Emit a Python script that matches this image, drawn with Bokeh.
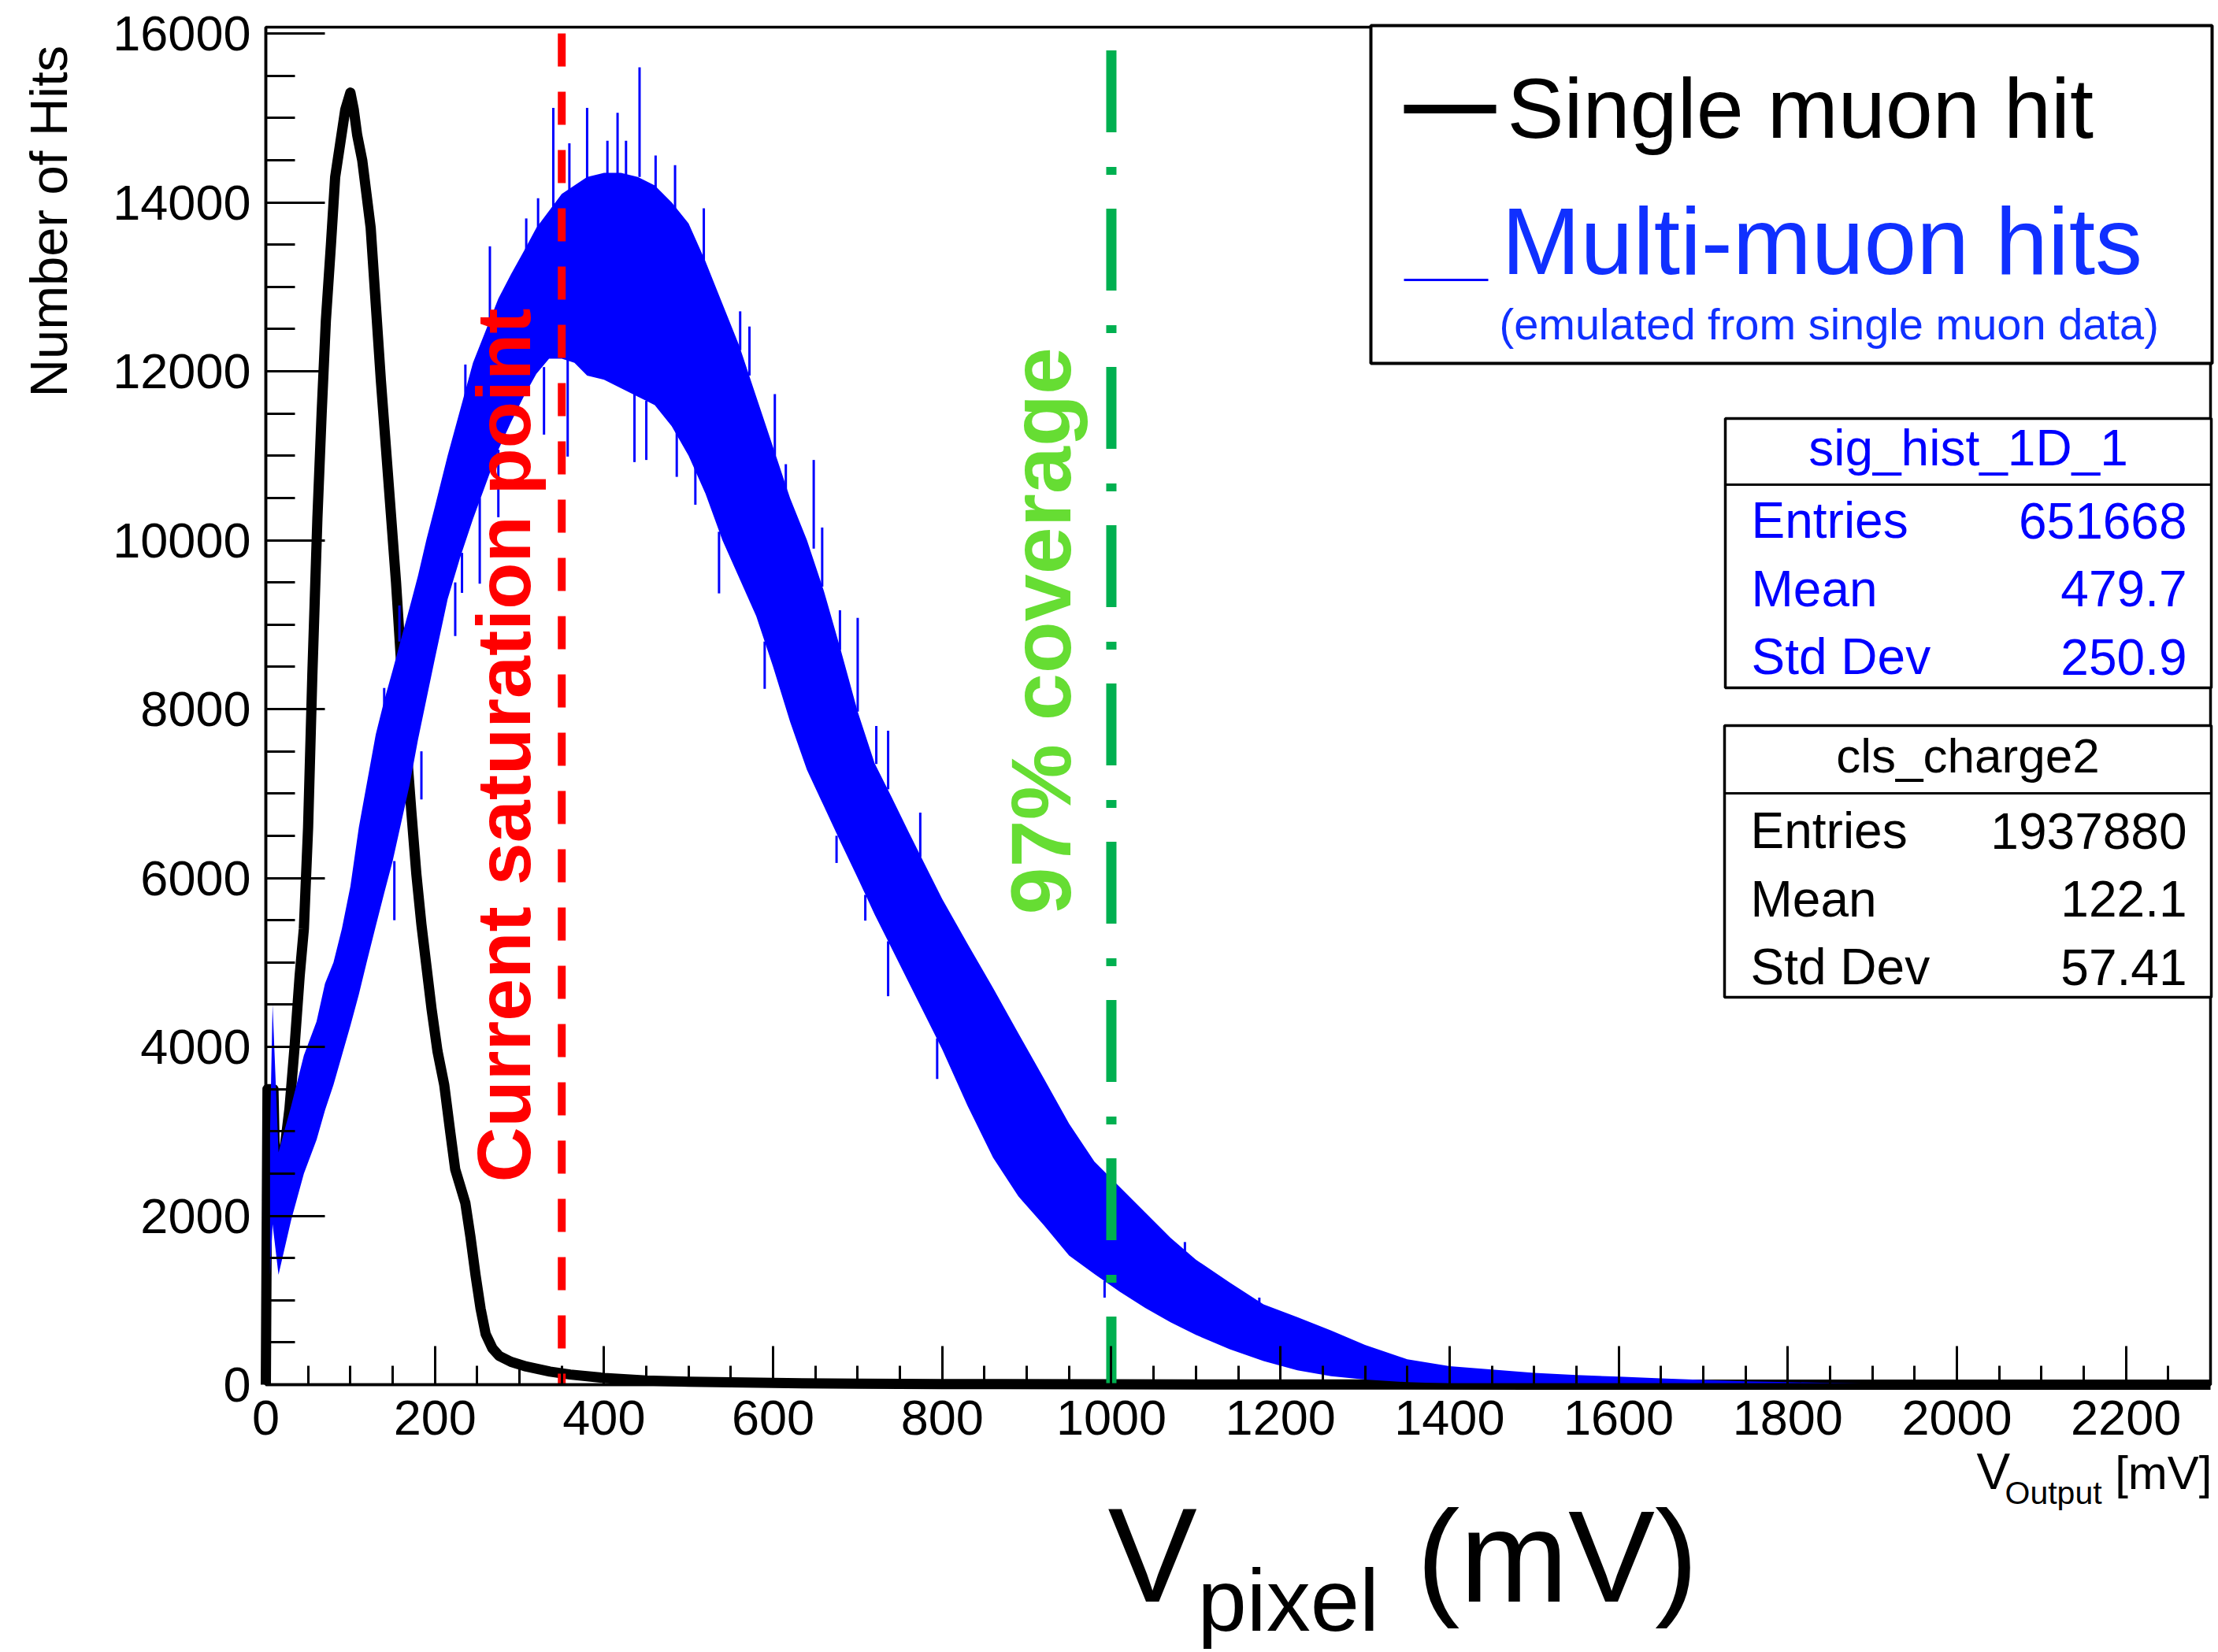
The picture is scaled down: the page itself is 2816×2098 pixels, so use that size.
import math
from bokeh.plotting import figure
from bokeh.models import Range1d, SingleIntervalTicker, Label, BoxAnnotation, LinearAxis
from bokeh.embed import file_html
from bokeh.resources import INLINE

# ---------------- data ----------------
# Single muon hit (black histogram), V_output in mV vs number of hits
single_x = [0, 2, 9, 12, 15, 23, 28, 34, 40, 45, 50, 55, 61, 66, 71, 77, 82, 88, 94, 100,
            104, 108, 114, 119, 124, 130, 136, 142, 148, 154, 160, 166, 172, 178, 184, 190,
            196, 203, 211, 218, 224, 230, 236, 242, 248, 254, 260, 268, 276, 290, 308, 336,
            360, 400, 450, 500, 600, 700, 800, 1000, 1200, 1500, 1800, 2300]
single_y = [0, 3500, 3500, 2000, 2450, 2860, 3270, 4000, 4840, 5400, 6600, 8400, 10260, 11500,
            12600, 13500, 14300, 14700, 15100, 15300, 15100, 14800, 14500, 14100, 13700, 12800,
            11900, 11100, 10300, 9500, 8550, 7600, 6800, 6050, 5450, 4950, 4450, 3950, 3550,
            3000, 2550, 2350, 2150, 1750, 1300, 900, 600, 430, 340, 270, 215, 155, 120, 80, 50,
            35, 20, 12, 8, 4, 2, 1, 0, 0]

# Multi-muon hits (blue histogram): lower / upper edge of the noisy band
multi_x = [5, 8, 15, 30, 45, 60, 70, 80, 90, 100, 110, 120, 130, 140, 150, 160, 170, 180, 190,
           200, 215, 230, 245, 260, 275, 290, 305, 320, 335, 350, 365, 380, 400, 420, 440, 460,
           480, 500, 520, 540, 560, 580, 600, 620, 640, 660, 680, 700, 720, 740, 760, 780, 800,
           830, 860, 890, 920, 950, 980, 1010, 1040, 1070, 1100, 1140, 1180, 1220, 1260, 1300,
           1350, 1400, 1450, 1500, 1550, 1600, 1650, 1700, 1750, 1800, 1850, 1900, 1950, 2000]
multi_hi = [3000, 4500, 2750, 3300, 3900, 4300, 4750, 5000, 5400, 5900, 6600, 7150, 7700, 8100,
            8460, 8830, 9200, 9580, 10010, 10400, 11000, 11550, 12100, 12480, 12860, 13150,
            13420, 13700, 13900, 14100, 14200, 14300, 14350, 14350, 14300, 14200, 14000, 13750,
            13300, 12800, 12300, 11700, 11100, 10500, 10000, 9400, 8700, 7970, 7360, 6960, 6550,
            6150, 5750, 5220, 4700, 4160, 3630, 3090, 2640, 2340, 2040, 1740, 1480, 1210, 950,
            800, 640, 470, 300, 220, 180, 140, 115, 95, 75, 55, 40, 30, 20, 12, 8, 4]
multi_lo = [1300, 1900, 1300, 1950, 2500, 2900, 3250, 3550, 3900, 4250, 4620, 5030, 5430, 5820,
            6200, 6650, 7100, 7640, 8120, 8600, 9300, 9800, 10250, 10660, 11070, 11400, 11700,
            11970, 12150, 12150, 12100, 11950, 11900, 11800, 11700, 11600, 11350, 11000, 10550,
            10000, 9550, 9100, 8500, 7850, 7280, 6850, 6420, 6000, 5570, 5170, 4770, 4370, 3970,
            3300, 2690, 2230, 1890, 1530, 1310, 1100, 910, 740, 590, 420, 280, 170, 100, 60, 30,
            15, 0, 0, 0, 0, 0, 0, 0, 0, 0, 0, 0, 0]

# individual bins sticking out of the band: x, band edge, tip
spike_x = [140, 158, 208, 236, 265, 308, 322, 340, 359, 380, 404, 416, 426, 442, 461, 484,
           518, 561, 572, 602, 615, 648, 658, 679, 700, 722, 736, 774, 1087, 1175,
           152, 184, 224, 232, 253, 275, 329, 357, 436, 450, 486, 508, 536, 590, 675, 709,
           736, 794, 992]
spike_from = [8000, 8800, 10300, 11600, 12500, 13400, 13650, 13900, 14150, 14200, 14300, 14300,
              14300, 14300, 14150, 13900, 13300, 12250, 11950, 11000, 10600, 9900, 9450, 8700,
              7970, 7350, 7050, 6250, 1450, 950,
              6200, 7500, 9500, 9850, 10500, 11070, 12050, 12150, 11750, 11650, 11300, 10900,
              10100, 8800, 6500, 5800, 5250, 4100, 1230]
spike_to = [8250, 9227, 10630, 12080, 13480, 13810, 14050, 15120, 14700, 15120, 14730, 15060,
            14730, 15600, 14555, 14440, 13930, 12710, 12530, 11730, 10900, 10950, 10150, 9170,
            9080, 7800, 7744, 6774, 1689, 1031,
            5500, 6930, 8865, 9376, 9485, 10272, 11250, 10990, 10925, 10950, 10750, 10420,
            9370, 8240, 6178, 5495, 4600, 3620, 1031]

saturation_mv = 350
saturation_top = 16000
coverage_mv = 1000
coverage_top = 15800

x_max = 2300
y_max = 16075
x_tick_step = 200
y_tick_step = 2000

stats_multi = [("Entries", "651668"), ("Mean", "479.7"), ("Std Dev", "250.9")]
stats_single = [("Entries", "1937880"), ("Mean", "122.1"), ("Std Dev", "57.41")]

# ---------------- layout ----------------
W, H = 2816, 2098
FL, FR, FT, FB = 337, 2806, 34, 1758          # where the axes box sits on the canvas
kx = (FR - FL) / x_max
ky = (FB - FT) / y_max
SANS = "Liberation Sans"
BLUE = "#0000FF"
LBLUE = "#1030FF"

p = figure(width=W, height=H,
           x_range=Range1d(-FL / kx, x_max + (W - FR) / kx),
           y_range=Range1d(-(H - FB) / ky, y_max + FT / ky),
           x_axis_location=None, y_axis_location=None,
           output_backend="svg", toolbar_location=None, min_border=0)
p.title.text = ""
p.grid.visible = False
p.outline_line_color = None
p.background_fill_color = "white"
p.border_fill_color = "white"

xaxis = LinearAxis(fixed_location=0, bounds=(0, x_max))
yaxis = LinearAxis(fixed_location=0, bounds=(0, y_max))
p.add_layout(xaxis, "below")
p.add_layout(yaxis, "left")

for ax, step, maj, mino, standoff in ((xaxis, x_tick_step, 49, 24, 20),
                                      (yaxis, y_tick_step, 75, 37, 19)):
    ax.ticker = SingleIntervalTicker(interval=step, num_minor_ticks=4)
    ax.axis_line_color = "black"
    ax.axis_line_width = 3.5
    ax.major_tick_in = maj
    ax.major_tick_out = 0
    ax.minor_tick_in = mino
    ax.minor_tick_out = 0
    ax.major_tick_line_width = 3
    ax.minor_tick_line_width = 3
    ax.major_tick_line_color = "black"
    ax.minor_tick_line_color = "black"
    ax.major_label_text_font = SANS
    ax.major_label_text_font_size = "63px"
    ax.major_label_text_color = "black"
    ax.major_label_standoff = standoff

# frame box (top / right edges)
p.add_layout(BoxAnnotation(left=0, right=x_max, bottom=0, top=y_max, fill_color=None,
                           fill_alpha=0, line_color="black", line_width=3.5, line_alpha=1.0))

# ---------------- glyphs ----------------
p.line(single_x, single_y, line_color="black", line_width=13, line_join="round")
p.varea(x=multi_x, y1=multi_lo, y2=multi_hi, fill_color=BLUE)
p.segment(x0=spike_x, y0=spike_from, x1=spike_x, y1=spike_to, line_color=BLUE, line_width=3)
p.line([saturation_mv, saturation_mv], [saturation_top, 0], line_color="#FF0000",
       line_width=10, line_dash="42 32")
p.line([coverage_mv, coverage_mv], [coverage_top, 0], line_color="#00B050",
       line_width=13, line_dash="104 44 10 43")

SHIFT = 0.35      # baseline correction (fraction of font size)


def lab(text, X, Y, size, color="black", font=SANS, align="left", rotated=False,
        style="normal"):
    if rotated:
        X = X - 0.38 * size
    else:
        Y = Y - SHIFT * size
    p.add_layout(Label(x=X, y=H - Y, x_units="screen", y_units="screen", text=text,
                       text_font=font, text_font_size=f"{size}px", text_color=color,
                       text_align=align, text_baseline="alphabetic",
                       angle=math.pi / 2 if rotated else 0.0, text_font_style=style))


def box(L, R, T, B, fill="white", line="black", lw=4):
    p.add_layout(BoxAnnotation(left=L, right=R, top=H - T, bottom=H - B,
                               left_units="screen", right_units="screen",
                               top_units="screen", bottom_units="screen",
                               fill_color=fill, fill_alpha=1.0,
                               line_color=line, line_width=lw,
                               line_alpha=1.0 if line else 0.0))


# rotated annotations inside the frame
lab("Current saturation point", 676, 1501, 97, "#FF0000", rotated=True, style="bold")
lab("97% coverage", 1362, 1161, 108, "#66DD33", rotated=True, style="bold")

# axis titles
lab("Number of Hits", 86, 504, 67, rotated=True)
lab("V", 1406, 2034, 170)
lab("pixel", 1520, 2071, 112)
lab("(mV)", 1798, 2034, 165)
lab("V", 2509, 1891, 64)
lab("Output", 2545, 1910, 41)
lab("[mV]", 2808, 1891, 60, align="right")

# legend
box(1740, 2808, 32, 461)
box(1782, 1899, 132.5, 143.5, fill="black", line=None, lw=0)
box(1782, 1889, 353.5, 356.5, fill=BLUE, line=None, lw=0)
lab("Single muon hit", 1913, 175, 108)
lab("Multi-muon hits", 1906, 347, 120, LBLUE)
lab("(emulated from single muon data)", 1903, 431, 56, LBLUE)

# stats boxes
for (L, T, B, div, title, tsize, rows, base0, col) in (
        (2190, 531, 873, 615, "sig_hist_1D_1", 64, stats_multi, 683, BLUE),
        (2189, 921, 1266, 1007, "cls_charge2", 62, stats_single, 1077, "black")):
    box(L, 2807, T, B, lw=3.5)
    box(L, 2807, div - 1.5, div + 1.5, fill="black", line=None, lw=0)
    lab(title, (L + 2807) / 2, T + 60, tsize, col, align="center")
    for i, (k, v) in enumerate(rows):
        yb = base0 + i * 86.5
        lab(k, L + 33, yb, 64, col)
        lab(v, 2776, yb, 64, col, align="right")

open("out.html", "w").write(file_html(p, INLINE))
